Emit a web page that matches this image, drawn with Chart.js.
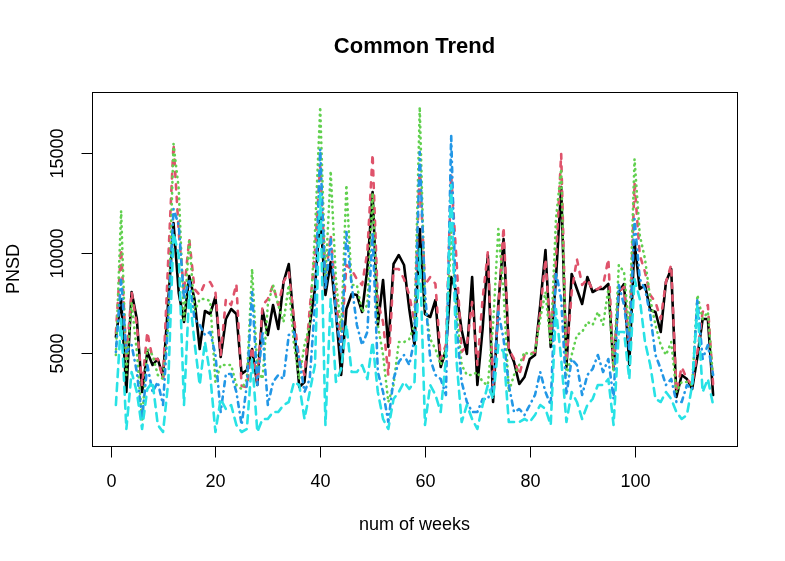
<!DOCTYPE html>
<html>
<head>
<meta charset="utf-8">
<script src="https://cdn.jsdelivr.net/npm/chart.js@4.4.0/dist/chart.umd.min.js"></script>
<style>
  html, body { margin: 0; padding: 0; background: #ffffff; }
  #wrap { width: 785px; height: 561px; }
</style>
</head>
<body>
<div id="wrap"><canvas id="chart" width="785" height="561"></canvas></div>
<script>
// Semanas (eje x)
const weeks = Array.from({ length: 115 }, (_, i) => i + 1);

const xTicks = [0, 20, 40, 60, 80, 100];
const yTicks = [5000, 10000, 15000];

// Series
const series1 = [
    5800, 7700, 3050, 8050, 6700, 3050, 5050, 4400, 4700, 3800,
    7600, 11500, 8000, 6550, 8850, 7700, 5200, 7100, 6950, 7800,
    4800, 6700, 7200, 6950, 3950, 4150, 5200, 3400, 7150, 5900,
    7400, 6200, 8550, 9450, 6400, 3300, 3550, 6400, 8200, 12000,
    7900, 9550, 7050, 3900, 7200, 7950, 7900, 7050, 9200, 13050,
    6400, 8650, 5300, 9450, 9900, 9400, 7200, 5400, 11200, 6950,
    6800, 7650, 4300, 5150, 8800, 8050, 6150, 4950, 8800, 3400,
    6200, 9900, 2550, 7400, 10700, 5200, 4550, 3450, 3800, 4700,
    4900, 7400, 10150, 5300, 8700, 13300, 4300, 8950, 8200, 7450,
    8800, 8050, 8200, 8200, 8450, 4200, 8050, 8450, 4400, 10550,
    8200, 8400, 7150, 7050, 6050, 8550, 9200, 2800, 3900, 3700,
    3200, 4800, 6700, 6700, 2900
];

const series2 = [
    6000, 10200, 4700, 8050, 6400, 3400, 6050, 4700, 4700, 3700,
    9700, 15450, 11050, 8050, 10700, 8200, 7900, 8500, 8550, 8050,
    4900, 7700, 7400, 8450, 3350, 3300, 5300, 3550, 7400, 7700,
    8400, 7400, 8550, 9050, 6700, 4700, 3900, 7200, 10050, 14400,
    8700, 10900, 7700, 5400, 9400, 9150, 8700, 8400, 10050, 14950,
    7550, 6550, 3900, 9200, 9200, 8700, 7900, 6550, 14300, 8400,
    8800, 8450, 4700, 5400, 13900, 9700, 5050, 5400, 7550, 4400,
    7700, 10050, 3400, 7200, 11300, 5200, 4700, 3900, 4900, 4950,
    5050, 7050, 9700, 5700, 9700, 14950, 4550, 8050, 9700, 8400,
    8700, 8150, 8200, 8400, 9700, 4200, 8050, 8300, 5400, 13500,
    9900, 9050, 7900, 7550, 6700, 8550, 9400, 3050, 4300, 3700,
    3400, 5050, 7050, 7400, 3400
];

const series3 = [
    4900, 12100, 3900, 7550, 5050, 1650, 5200, 4900, 3900, 3700,
    6400, 15450, 13200, 6550, 10700, 7050, 7700, 7700, 7600, 3550,
    4400, 4400, 4400, 3400, 3200, 3700, 9200, 4200, 3700, 7400,
    8400, 7400, 6550, 8400, 5400, 3700, 5400, 6400, 11000, 17300,
    8700, 14100, 8700, 6050, 13400, 8400, 8400, 7050, 7400, 13000,
    6400, 4900, 2550, 3400, 5550, 5550, 5700, 6400, 17300, 7400,
    5700, 5200, 4400, 5200, 11050, 7200, 4400, 3900, 3900, 4050,
    3550, 3400, 6400, 11200, 8050, 3050, 3900, 4400, 5050, 4900,
    5050, 6700, 8050, 5400, 11700, 14200, 3900, 4900, 5900, 6050,
    6550, 6400, 7050, 6400, 8200, 4050, 9400, 9050, 6050, 14700,
    10900, 9700, 7700, 6400, 5400, 4900, 5550, 3050, 3550, 3550,
    3400, 7900, 6700, 7050, 3700
];

const series4 = [
    5050, 8700, 5050, 5400, 4050, 1700, 4400, 3050, 3550, 2400,
    6700, 12200, 11400, 7700, 8700, 6700, 6400, 5900, 6050, 4900,
    2050, 3950, 3950, 3050, 1400, 3400, 8050, 3400, 6050, 2400,
    3550, 3900, 3700, 5900, 6050, 4700, 3050, 3700, 7400, 15200,
    8200, 10700, 6900, 5050, 11050, 8400, 6400, 5400, 6050, 11050,
    4050, 3050, 1550, 3700, 4550, 4900, 4400, 5700, 15050, 8050,
    4700, 3900, 3700, 2900, 15900, 6400, 3550, 2550, 2050, 2050,
    2700, 2700, 3400, 7050, 5700, 3400, 2050, 2200, 1900, 2400,
    2900, 4050, 3050, 2400, 9050, 7700, 2900, 4700, 4400, 2900,
    3900, 4200, 4900, 4050, 4700, 2700, 8400, 7400, 5200, 11700,
    8700, 8200, 6900, 4900, 4200, 3400, 3700, 2550, 2550, 3400,
    3200, 7700, 4700, 5400, 3900
];

const series5 = [
    2400, 6700, 1200, 4050, 3050, 1200, 3200, 3550, 1400, 1050,
    3550, 11000, 9900, 2400, 8050, 5550, 3400, 5550, 3900, 1050,
    2700, 2200, 2400, 1400, 1050, 1200, 4700, 1050, 1700, 1700,
    2050, 2050, 2400, 2550, 3550, 3400, 1700, 3050, 4400, 13050,
    1400, 7700, 3550, 4200, 6400, 4050, 4050, 4400, 3700, 5550,
    3050, 1700, 1200, 2700, 3050, 3550, 3200, 3550, 10200, 1400,
    3400, 2900, 2050, 4700, 13400, 4700, 1550, 2400, 1700, 1200,
    2400, 3400, 2700, 5400, 5050, 1550, 1550, 1550, 1700, 1550,
    1900, 2400, 2200, 1400, 7200, 4700, 1550, 3050, 2550, 1700,
    2400, 2700, 3400, 3400, 3700, 1400, 6050, 6050, 3700, 8700,
    7700, 5550, 4400, 2700, 2550, 3050, 2700, 2050, 1700, 1900,
    3400, 7400, 3050, 3700, 2400
];

const FONT = '"Liberation Sans", Arial, Helvetica, sans-serif';

/**
 * Construye los puntos {x, y} de una serie
 */
function toPoints(values) {
    return weeks.map((w, i) => ({ x: w, y: values[i] }));
}

/**
 * Dibuja caja, marcas y textos al estilo de R
 */
const rAxes = {
    id: 'rAxes',
    afterDraw(chart) {
        const ctx = chart.ctx;
        const area = chart.chartArea;
        const xs = chart.scales.x;
        const ys = chart.scales.y;
        const tick = 11;

        ctx.save();
        ctx.strokeStyle = '#000';
        ctx.lineWidth = 1;
        ctx.strokeRect(Math.round(area.left) + 0.5, Math.round(area.top) + 0.5,
            Math.round(area.right - area.left), Math.round(area.bottom - area.top));

        ctx.fillStyle = '#000';
        ctx.font = '18px ' + FONT;
        ctx.textAlign = 'center';
        ctx.textBaseline = 'middle';

        // Eje x
        const yb = Math.round(area.bottom) + 0.5;
        xTicks.forEach(v => {
            const px = Math.round(xs.getPixelForValue(v)) + 0.5;
            ctx.beginPath();
            ctx.moveTo(px, yb);
            ctx.lineTo(px, yb + tick);
            ctx.stroke();
            ctx.fillText(String(v), px, 482);
        });

        // Eje y
        const xl = Math.round(area.left) + 0.5;
        yTicks.forEach(v => {
            const py = Math.round(ys.getPixelForValue(v)) + 0.5;
            ctx.beginPath();
            ctx.moveTo(xl, py);
            ctx.lineTo(xl - tick, py);
            ctx.stroke();
            ctx.save();
            ctx.translate(58, py);
            ctx.rotate(-Math.PI / 2);
            ctx.fillText(String(v), 0, 0);
            ctx.restore();
        });

        // Títulos de ejes
        ctx.fillText('num of weeks', (area.left + area.right) / 2, 525);
        ctx.save();
        ctx.translate(14, (area.top + area.bottom) / 2);
        ctx.rotate(-Math.PI / 2);
        ctx.fillText('PNSD', 0, 0);
        ctx.restore();

        // Título principal
        ctx.font = 'bold 22px ' + FONT;
        ctx.fillText('Common Trend', (area.left + area.right) / 2, 47);
        ctx.restore();
    }
};

const common = {
    fill: false,
    pointRadius: 0,
    pointHoverRadius: 0,
    tension: 0,
    borderWidth: 2.6,
    borderCapStyle: 'round',
    borderJoinStyle: 'round'
};

new Chart(document.getElementById('chart'), {
    type: 'line',
    data: {
        datasets: [
            Object.assign({}, common, {
                label: 'serie 1', data: toPoints(series1),
                borderColor: '#000000', borderDash: [], order: 5
            }),
            Object.assign({}, common, {
                label: 'serie 2', data: toPoints(series2),
                borderColor: '#DF536B', borderDash: [5, 7.5], order: 4
            }),
            Object.assign({}, common, {
                label: 'serie 3', data: toPoints(series3),
                borderColor: '#61D04F', borderDash: [0.5, 5], order: 3
            }),
            Object.assign({}, common, {
                label: 'serie 4', data: toPoints(series4),
                borderColor: '#2297E6', borderDash: [0.5, 5, 5, 5], order: 2
            }),
            Object.assign({}, common, {
                label: 'serie 5', data: toPoints(series5),
                borderColor: '#28E2E5', borderDash: [8, 6], order: 1
            })
        ]
    },
    options: {
        responsive: false,
        animation: false,
        events: [],
        layout: {
            padding: { left: 92, right: 48, top: 92, bottom: 115 }
        },
        scales: {
            x: { type: 'linear', display: false, min: -3.56, max: 119.56 },
            y: { type: 'linear', display: false, min: 350, max: 18050 }
        },
        plugins: {
            legend: { display: false },
            title: { display: false },
            tooltip: { enabled: false }
        }
    },
    plugins: [rAxes]
});
</script>
</body>
</html>
